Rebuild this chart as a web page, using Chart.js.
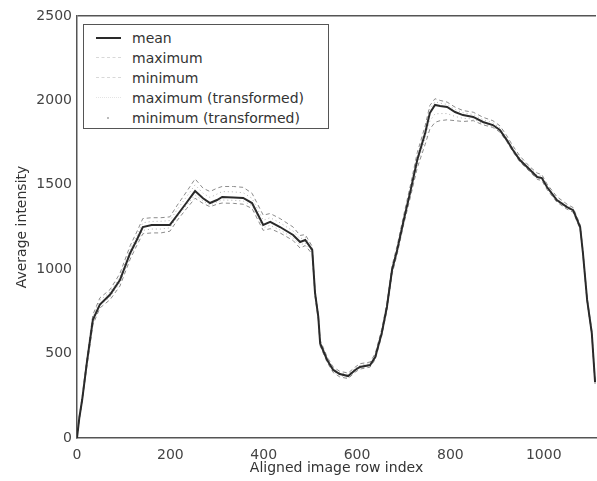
<!DOCTYPE html>
<html>
<head>
<meta charset="utf-8">
<script src="https://cdn.jsdelivr.net/npm/chart.js@4/dist/chart.umd.min.js"></script>
<style>
  body { margin: 0; background: #fff; }
  #wrap { position: relative; width: 597px; height: 481px; }
  #legend {
    position: absolute; left: 83px; top: 24px; width: 244px; height: 103px;
    border: 1px solid #555; background: #fff;
    font-family: "DejaVu Sans", sans-serif; font-size: 14px; color: #333;
  }
  .row { position: absolute; left: 0; height: 20px; line-height: 20px; }
  .row span.sample { position: absolute; left: 12px; top: 9px; width: 25px; height: 0; }
  .row span.txt { position: absolute; left: 48px; white-space: nowrap; }
</style>
</head>
<body>
<div id="wrap">
  <canvas id="myChart" width="597" height="481"></canvas>
  <div id="legend"></div>
</div>
<script>
'use strict';

const rowIndex = [0, 5, 11, 21, 34, 49, 71, 92, 114, 128,
  141, 160, 180, 199, 215, 235, 253, 270, 285, 300,
  311, 335, 356, 375, 399, 414, 435, 463, 478, 489,
  504, 510, 517, 521, 536, 549, 563, 581, 596, 606,
  628, 639, 653, 664, 675, 686, 700, 715, 729, 746,
  756, 767, 778, 793, 810, 827, 849, 870, 891, 906,
  921, 934, 949, 971, 986, 996, 1007, 1028, 1050, 1063,
  1078, 1084, 1093, 1103, 1110];

const meanValues = [0, 120, 225, 444, 700, 790, 850, 936, 1096, 1173,
  1250, 1262, 1262, 1262, 1321, 1395, 1463, 1420, 1392, 1410,
  1428, 1425, 1422, 1392, 1262, 1280, 1250, 1203, 1161, 1173,
  1114, 860, 717, 560, 462, 403, 379, 367, 403, 421,
  432, 480, 622, 776, 995, 1114, 1290, 1470, 1647, 1807,
  1925, 1973, 1967, 1961, 1931, 1913, 1902, 1872, 1854, 1825,
  1765, 1706, 1647, 1588, 1546, 1540, 1487, 1410, 1368, 1350,
  1250, 1096, 818, 622, 330];

const maxValues = [0, 130, 240, 470, 730, 830, 880, 975, 1140, 1220,
  1300, 1305, 1305, 1310, 1380, 1460, 1535, 1480, 1460, 1480,
  1490, 1490, 1485, 1450, 1320, 1330, 1300, 1250, 1200, 1205,
  1135, 880, 735, 580, 480, 420, 395, 385, 420, 440,
  450, 500, 645, 800, 1020, 1140, 1320, 1505, 1690, 1850,
  1970, 2010, 2000, 1990, 1960, 1940, 1930, 1900, 1880, 1850,
  1790, 1730, 1670, 1605, 1570, 1560, 1505, 1430, 1385, 1365,
  1265, 1110, 830, 635, 340];

const minValues = [0, 110, 210, 420, 670, 770, 820, 900, 1060, 1140,
  1210, 1215, 1215, 1225, 1290, 1360, 1420, 1390, 1370, 1385,
  1392, 1390, 1385, 1360, 1230, 1240, 1215, 1170, 1125, 1140,
  1090, 840, 700, 545, 448, 388, 362, 352, 390, 408,
  420, 465, 605, 755, 970, 1090, 1265, 1435, 1600, 1740,
  1830, 1870, 1880, 1885, 1880, 1875, 1880, 1855, 1840, 1812,
  1755, 1695, 1635, 1575, 1532, 1525, 1472, 1398, 1355, 1338,
  1238, 1085, 805, 610, 320];

const maxTransValues = [0, 125, 232, 458, 715, 815, 865, 955, 1118, 1196,
  1275, 1283, 1284, 1288, 1355, 1430, 1500, 1450, 1425, 1445,
  1460, 1458, 1453, 1420, 1290, 1305, 1275, 1226, 1180, 1190,
  1125, 870, 726, 570, 471, 411, 387, 376, 411, 430,
  441, 490, 633, 788, 1008, 1127, 1305, 1488, 1668, 1828,
  1948, 1992, 1984, 1976, 1946, 1927, 1916, 1886, 1867, 1838,
  1778, 1718, 1658, 1596, 1558, 1550, 1496, 1420, 1376, 1358,
  1258, 1103, 824, 628, 335];

const minTransValues = [0, 115, 218, 432, 685, 785, 835, 918, 1078, 1156,
  1230, 1238, 1238, 1245, 1310, 1380, 1440, 1405, 1380, 1398,
  1410, 1408, 1404, 1376, 1246, 1260, 1232, 1186, 1143, 1156,
  1102, 850, 708, 552, 455, 395, 370, 360, 396, 414,
  426, 472, 613, 765, 982, 1102, 1278, 1452, 1622, 1772,
  1878, 1920, 1922, 1922, 1905, 1894, 1890, 1862, 1846, 1818,
  1760, 1700, 1640, 1580, 1538, 1532, 1480, 1404, 1360, 1344,
  1244, 1090, 812, 616, 325];

const seriesNames = ["mean", "maximum", "minimum", "maximum (transformed)", "minimum (transformed)"];
const xTicks = [0, 200, 400, 600, 800, 1000];
const yTicks = [0, 500, 1000, 1500, 2000, 2500];

function toPoints(values) {
  const pts = [];
  for (let i = 0; i < rowIndex.length; i++) {
    pts.push({ x: rowIndex[i], y: values[i] });
  }
  return pts;
}

function plainLabel(value) {
  return String(value);
}

const font = { family: "DejaVu Sans", size: 14 };

const datasets = [
  { label: seriesNames[0], data: toPoints(meanValues), borderColor: "#2a2a2a", borderWidth: 2, order: 0 },
  { label: seriesNames[1], data: toPoints(maxValues), borderColor: "#8c8c8c", borderWidth: 1, borderDash: [4, 3], order: 1 },
  { label: seriesNames[2], data: toPoints(minValues), borderColor: "#8c8c8c", borderWidth: 1, borderDash: [4, 3], order: 2 },
  { label: seriesNames[3], data: toPoints(maxTransValues), borderColor: "#b0b0b0", borderWidth: 1, borderDash: [1, 3], order: 3 },
  { label: seriesNames[4], data: toPoints(minTransValues), borderColor: "#b0b0b0", borderWidth: 1, borderDash: [1, 3], order: 4 },
];
datasets.forEach(function (d) {
  d.pointRadius = 0;
  d.fill = false;
  d.tension = 0;
});

const myChart = new Chart(document.getElementById("myChart"), {
  type: "line",
  data: { datasets: datasets },
  options: {
    responsive: false,
    animation: false,
    layout: { padding: { top: 16, right: 1, left: 0, bottom: 0 } },
    plugins: { legend: { display: false }, tooltip: { enabled: false } },
    scales: {
      x: {
        type: "linear",
        min: 0,
        max: 1112,
        afterBuildTicks: function (scale) {
          scale.ticks = xTicks.map(function (v) { return { value: v }; });
        },
        afterFit: function (scale) { scale.height = 43; },
        grid: { display: false, drawTicks: false },
        border: { display: true, color: "#555", width: 1.5 },
        ticks: { font: font, color: "#444", padding: 9, maxRotation: 0, callback: plainLabel },
        title: { display: true, text: "Aligned image row index", font: font, color: "#333", padding: { top: 0, bottom: 4 } },
      },
      y: {
        min: 0,
        max: 2500,
        afterBuildTicks: function (scale) {
          scale.ticks = yTicks.map(function (v) { return { value: v }; });
        },
        afterFit: function (scale) { scale.width = 77; },
        grid: {
          drawTicks: false,
          color: function (ctx) { return ctx.tick && ctx.tick.value === 2500 ? "#555" : "rgba(0,0,0,0)"; },
          lineWidth: 1.5,
        },
        border: { display: true, color: "#555", width: 1.5 },
        ticks: { font: font, color: "#444", padding: 5, callback: plainLabel },
        title: { display: true, text: "Average intensity", font: font, color: "#333", padding: { top: 14, bottom: 0 } },
      },
    },
  },
});

// legend box drawn in the top-left corner like the original figure
const legendEl = document.getElementById("legend");
const sampleStyles = [
  "border-top: 2px solid #2a2a2a;",
  "border-top: 1px dashed #d8d8d8;",
  "border-top: 1px dashed #d8d8d8;",
  "border-top: 1px dotted #e4e4e4;",
  "",
];
for (let i = 0; i < myChart.data.datasets.length; i++) {
  const row = document.createElement("div");
  row.className = "row";
  row.style.top = (3 + i * 20) + "px";
  row.style.width = "100%";
  const sample = document.createElement("span");
  sample.className = "sample";
  sample.style.cssText = sampleStyles[i];
  if (i === 4) {
    sample.style.left = "23px";
    sample.style.top = "9px";
    sample.style.width = "2px";
    sample.style.height = "2px";
    sample.style.background = "#bbb";
  }
  const txt = document.createElement("span");
  txt.className = "txt";
  txt.textContent = myChart.data.datasets[i].label;
  row.appendChild(sample);
  row.appendChild(txt);
  legendEl.appendChild(row);
}
</script>
</body>
</html>
